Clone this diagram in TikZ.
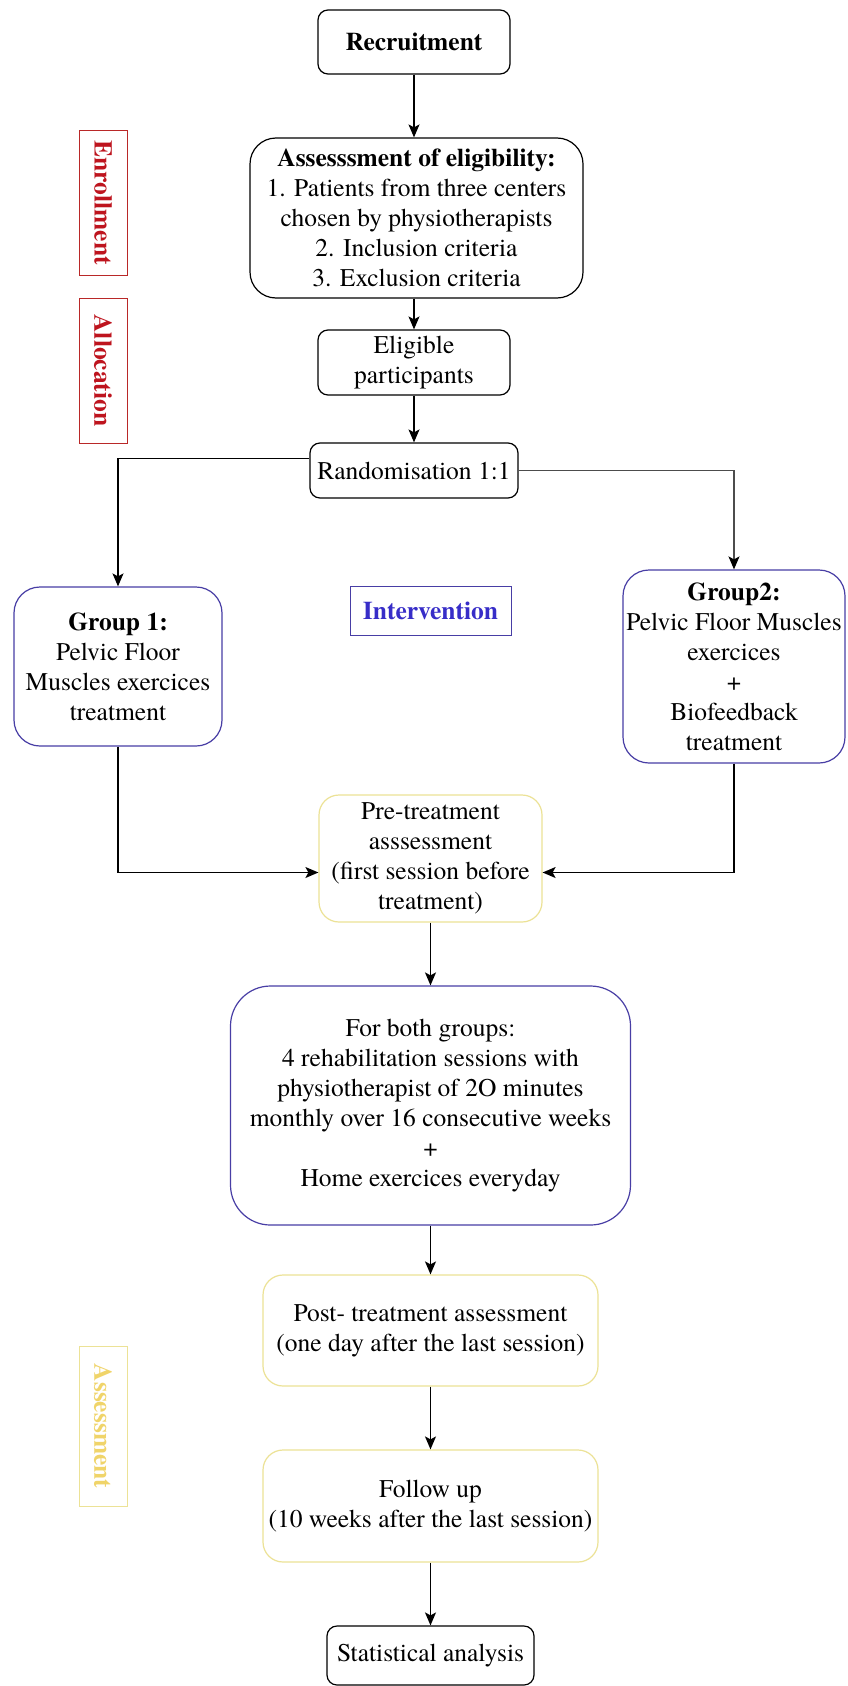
\documentclass[tikz,border=0pt]{standalone}
\usepackage{fontspec}
\setmainfont{texgyretermes}[Extension=.otf, UprightFont=*-regular, BoldFont=*-bold, ItalicFont=*-italic, BoldItalicFont=*-bolditalic]
\usetikzlibrary{arrows.meta,calc}
\definecolor{bluebd}{RGB}{72,62,165}
\definecolor{bluetx}{RGB}{55,45,200}
\definecolor{yelbd}{RGB}{236,226,150}
\definecolor{yeltx}{RGB}{240,212,105}
\definecolor{redbd}{RGB}{185,40,40}
\definecolor{redtx}{RGB}{190,20,30}
\begin{document}
\begin{tikzpicture}[x=1pt,y=-1pt,
  box/.style={draw, line width=1.2pt, rounded corners=#1, align=center, inner sep=0pt,
    font=\fontsize{25.5}{30}\selectfont},
  blackbox/.style={box=#1, draw=black},
  bluebox/.style={box=#1, draw=bluebd},
  yelbox/.style={box=#1, draw=yelbd},
  sidelabel/.style={draw=#1, line width=1pt, inner sep=0pt, align=center,
    font=\bfseries\fontsize{25.5}{30}\selectfont},
  arr/.style={-{Stealth[length=13pt,width=11pt,inset=3pt]}, line width=1.3pt},
  arrgray/.style={-{Stealth[length=13pt,width=11pt,inset=3pt,black]}, draw=black!70, line width=1.5pt},
]
\useasboundingbox[fill=white] (0,0) rectangle (847,1686);

% side labels
\node[sidelabel=redbd, text=redtx, minimum width=145pt, minimum height=48pt, rotate=-90] (enr) at (103,202.5) {Enrollment};
\node[sidelabel=redbd, text=redtx, minimum width=145pt, minimum height=48pt, rotate=-90] (alloc) at (103,370.5) {Allocation};
\node[sidelabel=yelbd, text=yeltx, minimum width=160pt, minimum height=48pt, rotate=-90] (asl) at (103,1426) {Assessment};
\node[sidelabel=bluebd, text=bluetx, minimum width=161pt, minimum height=49pt] (interv) at (430.5,610.5) {Intervention};

% main flow
\node[blackbox=10pt, minimum width=192pt, minimum height=64pt] (rec) at (414,42) {\textbf{Recruitment}};
\node[blackbox=26pt, minimum width=333pt, minimum height=160pt] (ass) at (416.5,218)
  {\textbf{Assesssment of eligibility:}\\1. Patients from three centers\\chosen by physiotherapists\\2. Inclusion criteria\\3. Exclusion criteria};
\node[blackbox=10pt, minimum width=192pt, minimum height=65pt] (elig) at (414,362.5) {Eligible\\participants};
\node[blackbox=10pt, minimum width=208pt, minimum height=55pt] (rand) at (414,470.5) {Randomisation 1:1};

\node[bluebox=26pt, minimum width=208pt, minimum height=159pt] (g1) at (118,666.5)
  {\textbf{Group 1:}\\Pelvic Floor\\Muscles exercices\\treatment};
\node[bluebox=26pt, minimum width=222pt, minimum height=193pt] (g2) at (734,666.5)
  {\textbf{Group2:}\\Pelvic Floor Muscles\\exercices\\+\\Biofeedback\\treatment};

\node[yelbox=20pt, minimum width=223pt, minimum height=127pt] (pre) at (430.5,858.5)
  {Pre-treatment\\asssessment\\(first session before\\treatment)};
\node[bluebox=40pt, minimum width=400pt, minimum height=239pt] (both) at (430.5,1105.5)
  {For both groups:\\4 rehabilitation sessions with\\physiotherapist of 2O minutes\\monthly over 16 consecutive weeks\\+\\Home exercices everyday};
\node[yelbox=20pt, minimum width=335pt, minimum height=111pt] (post) at (430.5,1330.5)
  {Post- treatment assessment\\(one day after the last session)};
\node[yelbox=20pt, minimum width=335pt, minimum height=112pt] (fol) at (430.5,1506)
  {Follow up\\(10 weeks after the last session)};
\node[blackbox=10pt, minimum width=207pt, minimum height=59pt] (stat) at (430.5,1655.5) {Statistical analysis};

% connectors
\draw[arr] (rec.south) -- (rec.south |- ass.north);
\draw[arr] (ass.south -| elig) -- (elig);
\draw[arr] (elig) -- (rand);
\draw[arr] ([yshift=12pt]rand.west) -| (g1);
\draw[arrgray] (rand.east) -| (g2);
\draw[arr] (g1.south) |- ([yshift=-14pt]pre.west);
\draw[arr] (g2.south) |- ([yshift=-14pt]pre.east);
\draw[arr] (pre) -- (both);
\draw[arr] (both) -- (post);
\draw[arr] (post) -- (fol);
\draw[arr] (fol) -- (stat);
\end{tikzpicture}
\end{document}
